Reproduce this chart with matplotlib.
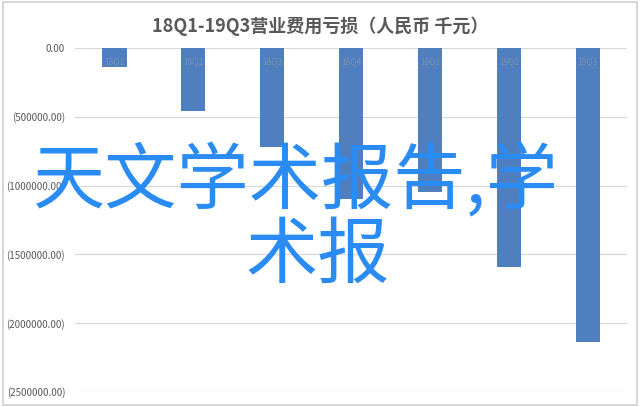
import matplotlib
matplotlib.use("Agg")
import matplotlib.pyplot as plt
import numpy as np
from matplotlib.patches import Rectangle

plt.rcParams['font.family'] = ['Noto Sans CJK SC', 'DejaVu Sans']

quarters = ["18Q1", "18Q2", "18Q3", "18Q4", "19Q1", "19Q2", "19Q3"]
loss = [-135000, -460000, -720000, -1095000, -1050000, -1595000, -2135000]
yticks = [0, -500000, -1000000, -1500000, -2000000, -2500000]
ytick_labels = ["0.00", "(500000.00)", "(1000000.00)", "(1500000.00)",
                "(2000000.00)", "(2500000.00)"]
title = "18Q1-19Q3营业费用亏损（人民币 千元）"
overlay1 = "天文学术报告,学"
overlay2 = "术报"

fig = plt.figure(figsize=(6.4, 4.07), dpi=100)
fig.patch.set_facecolor("white")
fig.patches.append(Rectangle((0.004, 0.005), 0.992, 0.99, transform=fig.transFigure,
                             fill=False, edgecolor="#d0d0d0", linewidth=1.2))

ax = fig.add_axes([0.117, 0.037, 0.863, 0.845])
x = np.arange(len(quarters))
ax.bar(x, loss, width=0.31, color="#4f7fbf", zorder=2)
for xi, q in zip(x, quarters):
    ax.text(xi, -100000, q, ha="center", va="center", fontsize=6,
            color="#7b8fb0", zorder=3)

ax.set_xlim(-0.5, 6.5)
ax.set_ylim(-2500000, 0)
ax.set_yticks(yticks)
ax.set_yticklabels(ytick_labels, fontsize=7, color="#595959")
ax.set_xticks([])
ax.tick_params(axis="y", length=0, pad=7)
ax.grid(axis="y", color="#d9d9d9", linewidth=0.9, zorder=0)
for s in ax.spines.values():
    s.set_visible(False)

fig.text(0.5, 0.935, title, ha="center", va="center", fontsize=13,
         fontweight="bold", color="#595959")

fig.text(0.4625, 0.552, overlay1, ha="center", va="center", fontsize=52,
         color="#2a8cf2", zorder=10)
fig.text(0.497, 0.37, overlay2, ha="center", va="center", fontsize=52,
         color="#2a8cf2", zorder=10)

fig.savefig("out.png", dpi=100)
